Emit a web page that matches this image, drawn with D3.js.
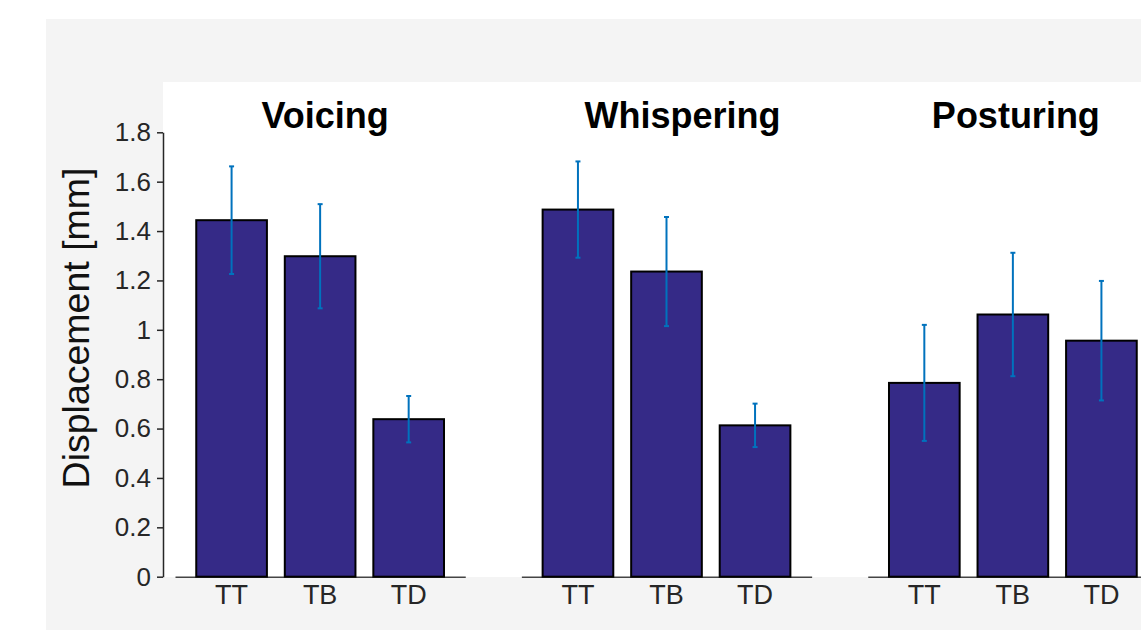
<!DOCTYPE html>
<html>
<head>
<meta charset="utf-8">
<script src="https://cdn.jsdelivr.net/npm/d3@7"></script>
<style>
  html, body { margin: 0; padding: 0; background: #fff; }
  svg { display: block; font-family: "Liberation Sans", Arial, Helvetica, sans-serif; }
</style>
</head>
<body>
<svg id="chart" width="1141" height="630"></svg>
<script>
// data
const groups = ["Voicing", "Whispering", "Posturing"];
const categories = ["TT", "TB", "TD"];
const means = [
    [1.444, 1.298, 0.638],
    [1.487, 1.236, 0.613],
    [0.785, 1.062, 0.956]
];
const errors = [
    [0.218, 0.211, 0.094],
    [0.195, 0.221, 0.088],
    [0.235, 0.250, 0.242]
];
const yTicks = [0, 0.2, 0.4, 0.6, 0.8, 1, 1.2, 1.4, 1.6, 1.8];

const svg = d3.select("#chart");

// gray figure panel + white axes area
svg.append("rect")
    .attr("x", 46).attr("y", 19)
    .attr("width", 1141 - 46).attr("height", 630 - 19)
    .attr("fill", "#f4f4f4");
svg.append("rect")
    .attr("x", 163).attr("y", 82)
    .attr("width", 1141 - 163).attr("height", 577 - 82)
    .attr("fill", "#ffffff");

const y = d3.scaleLinear().domain([0, 1.8]).range([576.7, 132.3]);

// one band per panel, then bars inside each panel
const panelX = d3.scaleBand().domain(groups)
    .range([175, 175 + 2 * 346.5 + 290])
    .paddingInner(0.162).paddingOuter(0);

const barX = d3.scaleBand().domain(categories)
    .range([0, panelX.bandwidth()])
    .paddingInner(0.202).paddingOuter(0.24);

const titleShift = [5, 16, 3];

// y axis
const yAxis = svg.append("g")
    .attr("transform", "translate(163,0)")
    .call(d3.axisLeft(y).tickValues(yTicks).tickFormat(d => String(d))
        .tickSize(6).tickPadding(6).tickSizeOuter(0));
yAxis.select(".domain").attr("stroke", "#262626").attr("stroke-width", 1.5);
yAxis.selectAll(".tick line").attr("stroke", "#262626").attr("stroke-width", 1.5);
yAxis.selectAll(".tick text")
    .attr("fill", "#262626")
    .style("font-size", "26px");

svg.append("text")
    .attr("transform", "translate(89,328) rotate(-90)")
    .attr("text-anchor", "middle")
    .attr("fill", "#111")
    .style("font-size", "37.5px")
    .text("Displacement [mm]");

groups.forEach(function (g, gi) {
    const panel = svg.append("g")
        .attr("transform", "translate(" + panelX(g) + ",0)");

    // baseline with category labels
    const xAxis = panel.append("g")
        .attr("transform", "translate(0," + y(0) + ")")
        .call(d3.axisBottom(barX).tickSize(0).tickPadding(8).tickSizeOuter(0));
    xAxis.select(".domain").attr("stroke", "#444").attr("stroke-width", 1.5);
    xAxis.selectAll(".tick text")
        .attr("fill", "#262626")
        .style("font-size", "27px");

    const rows = categories.map((c, i) => ({cat: c, v: means[gi][i], e: errors[gi][i]}));

    panel.selectAll(".bar").data(rows).enter()
        .append("rect")
        .attr("class", "bar")
        .attr("x", d => barX(d.cat))
        .attr("y", d => y(d.v))
        .attr("width", barX.bandwidth())
        .attr("height", d => y(0) - y(d.v))
        .attr("fill", "#352a87")
        .attr("stroke", "#000")
        .attr("stroke-width", 2);

    const err = panel.selectAll(".err").data(rows).enter()
        .append("g").attr("class", "err")
        .attr("stroke", "#0072bd")
        .attr("stroke-width", 2);
    const cx = d => barX(d.cat) + barX.bandwidth() / 2;
    err.append("line")
        .attr("x1", cx).attr("x2", cx)
        .attr("y1", d => y(d.v - d.e)).attr("y2", d => y(d.v + d.e));
    err.append("line")
        .attr("x1", d => cx(d) - 2.5).attr("x2", d => cx(d) + 2.5)
        .attr("y1", d => y(d.v + d.e)).attr("y2", d => y(d.v + d.e));
    err.append("line")
        .attr("x1", d => cx(d) - 2.5).attr("x2", d => cx(d) + 2.5)
        .attr("y1", d => y(d.v - d.e)).attr("y2", d => y(d.v - d.e));

    panel.append("text")
        .attr("x", panelX.bandwidth() / 2 + titleShift[gi])
        .attr("y", 128)
        .attr("text-anchor", "middle")
        .attr("fill", "#000")
        .style("font-size", "36px")
        .style("font-weight", "bold")
        .text(g);
});
</script>
</body>
</html>
